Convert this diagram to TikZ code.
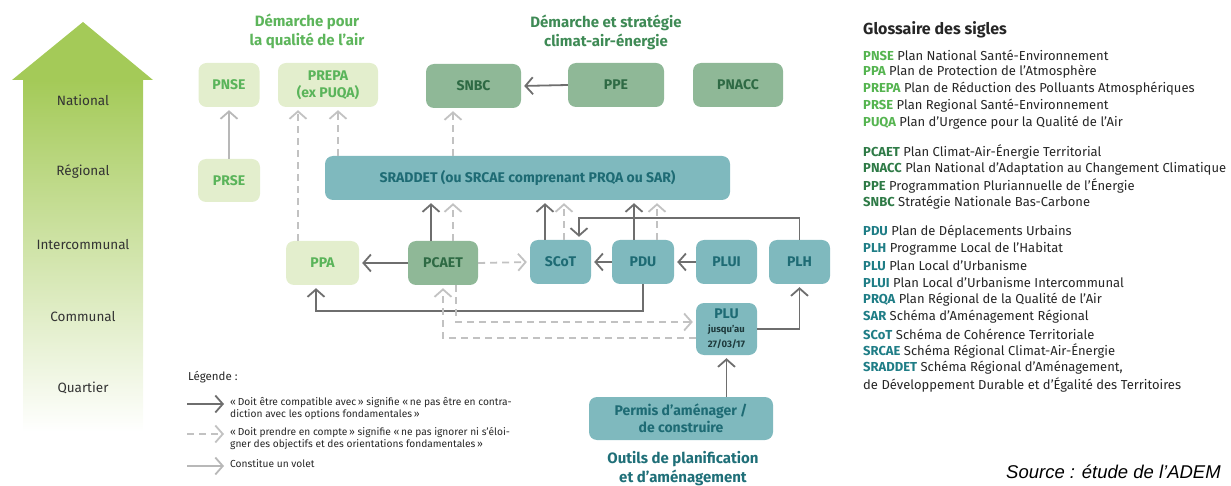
\documentclass[tikz,border=0pt]{standalone}
\usepackage{fontspec}
\setmainfont{Fira Sans}
\newfontfamily\srcfont{Liberation Sans}
\usetikzlibrary{arrows.meta,calc}
\definecolor{lgfill}{HTML}{E3EECD}
\definecolor{lgtext}{HTML}{5AB45A}
\definecolor{mgfill}{HTML}{8FB897}
\definecolor{mgtext}{HTML}{2E6A44}
\definecolor{tlfill}{HTML}{7FB9BE}
\definecolor{tltext}{HTML}{1E6B74}
\definecolor{headA}{HTML}{5DB55B}
\definecolor{headB}{HTML}{3E8A55}
\definecolor{headC}{HTML}{1F6F78}
\definecolor{darkarrow}{HTML}{6E6E6E}
\definecolor{lightdash}{HTML}{C2C2C2}
\definecolor{voletgray}{HTML}{B8B8B8}
\definecolor{arrowgreen}{HTML}{A4CA58}
\definecolor{lvltext}{HTML}{333333}
\definecolor{gA}{HTML}{55B450}
\definecolor{gB}{HTML}{2E7A46}
\definecolor{gC}{HTML}{1F7D86}
\definecolor{plusmall}{HTML}{1E3A3C}
\newcommand\myNodeFont{\fontsize{14}{17}\selectfont\bfseries}
\newcommand\myHeadFont{\fontsize{15}{19}\selectfont\bfseries}
\newcommand\myLvlFont{\fontsize{13.5}{16}\selectfont}
\newcommand\myGlossFont{\fontsize{13}{15}\selectfont}
\newcommand\myLegFont{\fontsize{10.2}{12.2}\selectfont}
\begin{document}
\begin{tikzpicture}[x=1pt,y=-1pt,
  box/.style={rounded corners=8pt, minimum height=44pt, inner sep=0pt, align=center, font=\myNodeFont},
  lg/.style={box, fill=lgfill, text=lgtext},
  mg/.style={box, fill=mgfill, text=mgtext},
  tl/.style={box, fill=tlfill, text=tltext},
  tipb/.tip={Straight Barb[length=7.5pt,width=17pt,line width=1.8pt]},
  dk/.style={draw=darkarrow, line width=1.8pt, -tipb, shorten >=3pt},
  ld/.style={draw=lightdash, line width=1.8pt, dash pattern=on 7pt off 5pt, -tipb, shorten >=3pt},
  vl/.style={draw=voletgray, line width=1.8pt, -tipb, shorten >=3pt},
  lvl/.style={font=\myLvlFont, text=lvltext},
  head/.style={font=\myHeadFont, align=center},
  gl/.style={anchor=west, font=\myGlossFont, inner sep=0pt, text=black!85},
  leg/.style={anchor=north west, font=\myLegFont, align=left, inner sep=0pt, text=black!85},
]
\useasboundingbox (0,0) rectangle (1231,486);

% big vertical arrow
\shade[top color=arrowgreen, bottom color=white] (23,80) rectangle (143,432);
\fill[arrowgreen] (12,80) -- (83,22) -- (153,80) -- cycle;

\node[lvl] (lnat) at (83,100) {National};
\node[lvl] (lreg) at (83,172) {Régional};
\node[lvl] (lint) at (83,245) {Intercommunal};
\node[lvl] (lcom) at (83,317) {Communal};
\node[lvl] (lqua) at (83,388) {Quartier};

% headings
\node[head, text=headA] (hA) at (307,31) {Démarche pour\\la qualité de l’air};
\node[head, text=headB] (hB) at (606,32) {Démarche et stratégie\\climat-air-énergie};
\node[head, text=headC] (hC) at (683,469) {Outils de planification\\et d’aménagement};

% nodes
\node[lg, minimum width=61pt] (pnse) at (229,85) {PNSE};
\node[lg, minimum width=100pt] (prepa) at (328,85) {PREPA\\(ex PUQA)};
\node[lg, minimum width=62pt, minimum height=43pt] (prse) at (229,180.5) {PRSE};
\node[mg, minimum width=95pt] (snbc) at (473.5,86) {SNBC};
\node[mg, minimum width=96pt] (ppe) at (616,85) {PPE};
\node[mg, minimum width=90pt] (pnacc) at (738,85) {PNACC};
\node[tl, minimum width=405pt] (sraddet) at (527.5,178) {SRADDET (ou SRCAE comprenant PRQA ou SAR)};
\node[lg, minimum width=73pt] (ppa) at (322.5,263) {PPA};
\node[mg, minimum width=70pt] (pcaet) at (443,263) {PCAET};
\node[tl, minimum width=61pt] (scot) at (560.5,262) {SCoT};
\node[tl, minimum width=62pt] (pdu) at (643,262) {PDU};
\node[tl, minimum width=61pt] (plui) at (726.5,262) {PLUI};
\node[tl, minimum width=61pt] (plh) at (799.5,262) {PLH};
\node[tl, minimum width=61pt, minimum height=52pt] (plu) at (726.5,329) {PLU\\[-3pt]{\fontsize{9.5}{11}\selectfont\color{plusmall}jusqu’au}\\[-2pt]{\fontsize{9.5}{11}\selectfont\color{plusmall}27/03/17}};
\node[tl, minimum width=184pt, minimum height=43pt] (permis) at (681,418.5) {Permis d’aménager /\\de construire};

% helper coordinates
\coordinate (busTop) at (0,218);
\coordinate (busPPA) at (0,311);
\coordinate (busD1) at (0,322);
\coordinate (busD2) at (0,338);
\coordinate (kPPAup) at ([xshift=-24.5pt]ppa.north);
\coordinate (kPREPA) at ([xshift=10pt]prepa.south);
\coordinate (kSNBC) at ([xshift=-20.5pt]snbc.south);
\coordinate (kPCs) at ([xshift=-12pt]pcaet.north);
\coordinate (kPCd) at ([xshift=10pt]pcaet.north);
\coordinate (kSCs) at ([xshift=-15.5pt]scot.north);
\coordinate (kSCd) at ([xshift=3.5pt]scot.north);
\coordinate (kSCin) at ([xshift=18.5pt]scot.north);
\coordinate (kPDs) at ([xshift=-9pt]pdu.north);
\coordinate (kPDd) at ([xshift=14pt]pdu.north);
\coordinate (kPPAin) at ([xshift=-6.5pt]ppa.south);
\coordinate (kPCout) at ([xshift=13pt]pcaet.south);

% connectors
\draw[vl] (prse.north) -- (prse.north |- pnse.south);
\draw[ld] (kPPAup) -- (kPPAup |- prepa.south);
\draw[ld] (kPREPA |- sraddet.north) -- (kPREPA);
\draw[ld] (kSNBC |- sraddet.north) -- (kSNBC);
\draw[dk] (ppe.west) -- (snbc.east);
\draw[dk] (kPCs) -- (kPCs |- sraddet.south);
\draw[ld] (kPCd) -- (kPCd |- sraddet.south);
\draw[dk] (kSCs) -- (kSCs |- sraddet.south);
\draw[ld] (kSCd) -- (kSCd |- sraddet.south);
\draw[dk] (kPDs) -- (kPDs |- sraddet.south);
\draw[ld] (kPDd) -- (kPDd |- sraddet.south);
\draw[dk] (plh.north) -- (plh.north |- busTop) -| (kSCin);
\draw[dk] (pcaet.west) -- (ppa.east);
\draw[ld] (pcaet.east) -- (scot.west);
\draw[dk] (pdu.west) -- (scot.east);
\draw[dk] (plui.west) -- (pdu.east);
\draw[dk] (pdu.south) -- (pdu.south |- busPPA) -| (kPPAin);
\draw[ld] (kPCout) |- (plu.west |- busD1);
\draw[ld] (plu.west |- busD2) -| (pcaet.south);
\draw[dk] (plu.east) -| (plh.south);
\draw[dk] (plu.south |- permis.north) -- (plu.south);

% legend
\node[anchor=west, font=\fontsize{11.5}{13}\selectfont, inner sep=0pt, text=black!85] (legt) at (188,377) {Légende :};
\coordinate (lA1) at (187,404); \coordinate (lA2) at (227,404);
\coordinate (lB1) at (187,434); \coordinate (lB2) at (227,434);
\coordinate (lC1) at (187,466); \coordinate (lC2) at (227,466);
\draw[dk, line width=1.6pt] (lA1) -- (lA2);
\draw[ld, line width=1.6pt] (lB1) -- (lB2);
\draw[vl, line width=1.6pt] (lC1) -- (lC2);
\node[leg] (legA) at (230,397) {«\,Doit être compatible avec\,» signifie «\,ne pas être en contra-\\diction avec les options fondamentales\,»};
\node[leg] (legB) at (230,427) {«\,Doit prendre en compte\,» signifie «\,ne pas ignorer ni s’éloi-\\gner des objectifs et des orientations fondamentales\,»};
\node[leg] (legC) at (230,459) {Constitue un volet};

% glossary
\node[anchor=west, inner sep=0pt, font=\fontsize{16}{18}\selectfont\bfseries, text=black!85] (gt) at (863,30) {Glossaire des sigles};
\node[gl] (g1) at (863,55) {\textcolor{gA}{\bfseries PNSE} Plan National Santé-Environnement};
\node[gl] (g2) at (863,72) {\textcolor{gA}{\bfseries PPA} Plan de Protection de l’Atmosphère};
\node[gl] (g3) at (863,89) {\textcolor{gA}{\bfseries PREPA} Plan de Réduction des Polluants Atmosphériques};
\node[gl] (g4) at (863,106) {\textcolor{gA}{\bfseries PRSE} Plan Regional Santé-Environnement};
\node[gl] (g5) at (863,123) {\textcolor{gA}{\bfseries PUQA} Plan d’Urgence pour la Qualité de l’Air};
\node[gl] (g6) at (863,152) {\textcolor{gB}{\bfseries PCAET} Plan Climat-Air-Énergie Territorial};
\node[gl] (g7) at (863,169) {\textcolor{gB}{\bfseries PNACC} Plan National d’Adaptation au Changement Climatique};
\node[gl] (g8) at (863,186) {\textcolor{gB}{\bfseries PPE} Programmation Pluriannuelle de l’Énergie};
\node[gl] (g9) at (863,203) {\textcolor{gB}{\bfseries SNBC} Stratégie Nationale Bas-Carbone};
\node[gl] (g10) at (863,232) {\textcolor{gC}{\bfseries PDU} Plan de Déplacements Urbains};
\node[gl] (g11) at (863,249) {\textcolor{gC}{\bfseries PLH} Programme Local de l’Habitat};
\node[gl] (g12) at (863,266) {\textcolor{gC}{\bfseries PLU} Plan Local d’Urbanisme};
\node[gl] (g13) at (863,283) {\textcolor{gC}{\bfseries PLUI} Plan Local d’Urbanisme Intercommunal};
\node[gl] (g14) at (863,300) {\textcolor{gC}{\bfseries PRQA} Plan Régional de la Qualité de l’Air};
\node[gl] (g15) at (863,317) {\textcolor{gC}{\bfseries SAR} Schéma d’Aménagement Régional};
\node[gl] (g16) at (863,334) {\textcolor{gC}{\bfseries SCoT} Schéma de Cohérence Territoriale};
\node[gl] (g17) at (863,351) {\textcolor{gC}{\bfseries SRCAE} Schéma Régional Climat-Air-Énergie};
\node[gl] (g18) at (863,368) {\textcolor{gC}{\bfseries SRADDET} Schéma Régional d’Aménagement,};
\node[gl] (g19) at (863,385) {de Développement Durable et d’Égalité des Territoires};

% source
\node[anchor=west, inner sep=0pt, font=\srcfont\itshape\fontsize{18.5}{21}\selectfont, text=black] (src) at (1006,472) {Source : étude de l’ADEM};
\end{tikzpicture}
\end{document}
